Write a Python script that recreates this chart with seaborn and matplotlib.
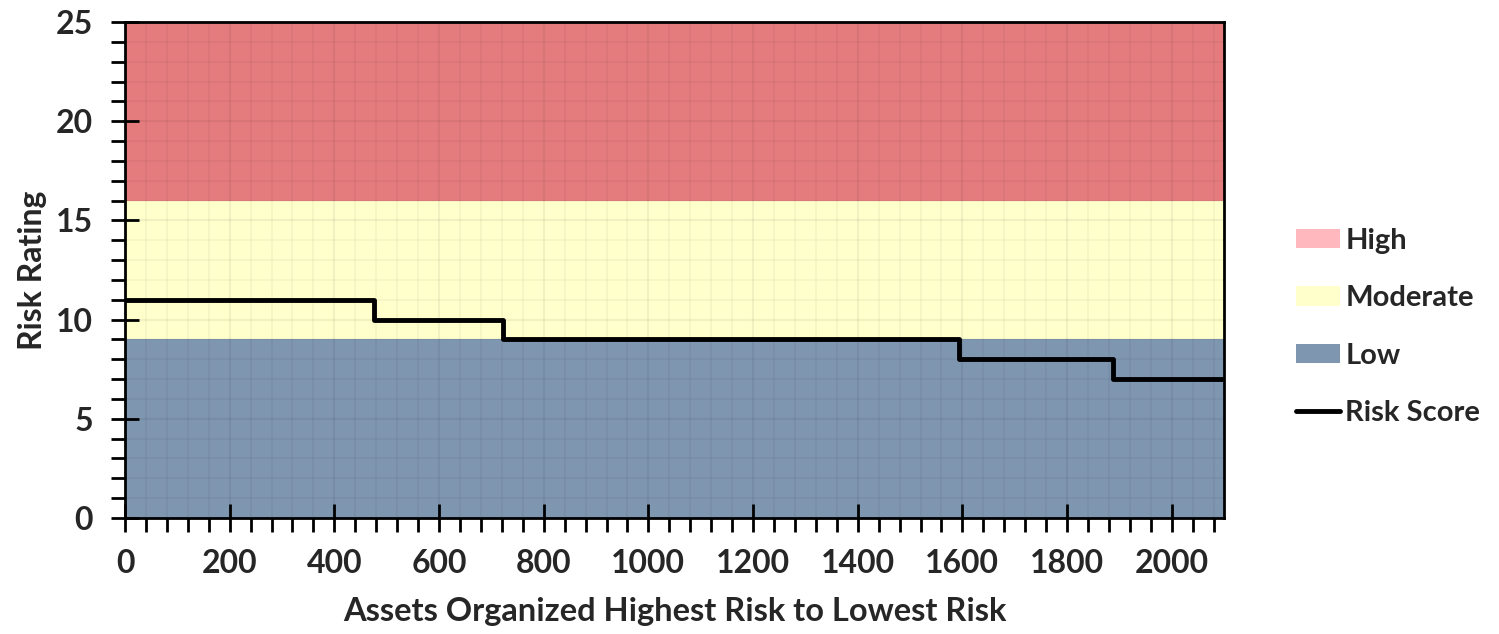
import numpy as np
import pandas as pd
import matplotlib
matplotlib.use("Agg")
import matplotlib.pyplot as plt
import seaborn as sns
from matplotlib.patches import Patch
from matplotlib.lines import Line2D
from matplotlib.ticker import MultipleLocator

# ---- data ----
step_x = [0, 476, 723, 1594, 1888, 2100]
step_y = [11, 10, 9, 8, 7, 7]
band_names = ["High", "Moderate", "Low"]
band_low = [16, 9, 0]
band_high = [25, 16, 9]
band_colors = ["#e47c7e", "#ffffcc", "#7f96b0"]
legend_colors = ["#ffb8bd", "#ffffcc", "#7f96b0"]
x_label = "Assets Organized Highest Risk to Lowest Risk"
y_label = "Risk Rating"

sns.set_theme(style="white")
plt.rcParams['font.family'] = ['Lato', 'DejaVu Sans']
plt.rcParams['font.weight'] = 'bold'

fig = plt.figure(figsize=(14.99, 6.34), dpi=100)
ax = fig.add_axes([0.0834, 0.183, 0.8166 - 0.0834, 0.9653 - 0.183])

for lo, hi, c in zip(band_low, band_high, band_colors):
    ax.axhspan(lo, hi, color=c, zorder=1, lw=0)

df = pd.DataFrame({"x": step_x, "y": step_y})
sns.lineplot(data=df, x="x", y="y", ax=ax, color="black", lw=3.5,
             drawstyle="steps-post", zorder=3)

ax.set_xlim(0, 2100)
ax.set_ylim(0, 25)
ax.xaxis.set_major_locator(MultipleLocator(200))
ax.xaxis.set_minor_locator(MultipleLocator(40))
ax.yaxis.set_major_locator(MultipleLocator(5))
ax.yaxis.set_minor_locator(MultipleLocator(1))

ax.set_axisbelow('line')
ax.grid(which='minor', color='black', alpha=0.035, lw=1.5)
ax.grid(which='major', color='black', alpha=0.06, lw=1.5)

ax.tick_params(axis='x', which='major', direction='inout', length=20, width=2,
               labelsize=23, pad=12, bottom=True, color='black')
ax.tick_params(axis='x', which='minor', direction='out', length=10, width=2,
               bottom=True, color='black')
ax.tick_params(axis='y', which='major', direction='inout', length=20, width=2,
               labelsize=23, pad=13, left=True, color='black')
ax.tick_params(axis='y', which='minor', direction='out', length=10, width=2,
               left=True, color='black')
for lab in ax.get_xticklabels() + ax.get_yticklabels():
    lab.set_fontweight('bold')

for s in ax.spines.values():
    s.set_visible(True)
    s.set_color('black')
    s.set_linewidth(2)

ax.set_xlabel(x_label, fontsize=23.5, fontweight='bold', labelpad=14)
ax.set_ylabel(y_label, fontsize=23, fontweight='bold', labelpad=6)

handles = [Patch(facecolor=c, edgecolor='none', label=n)
           for n, c in zip(band_names, legend_colors)]
handles.append(Line2D([0], [0], color='black', lw=3.5, label='Risk Score'))
fig.legend(handles=handles, loc='center left', bbox_to_anchor=(0.847, 0.484),
           frameon=False, prop={'size': 21, 'weight': 'bold'},
           handlelength=1.5, handleheight=0.65, handletextpad=0.2,
           labelspacing=1.08)

fig.savefig("out.png", dpi=100)
